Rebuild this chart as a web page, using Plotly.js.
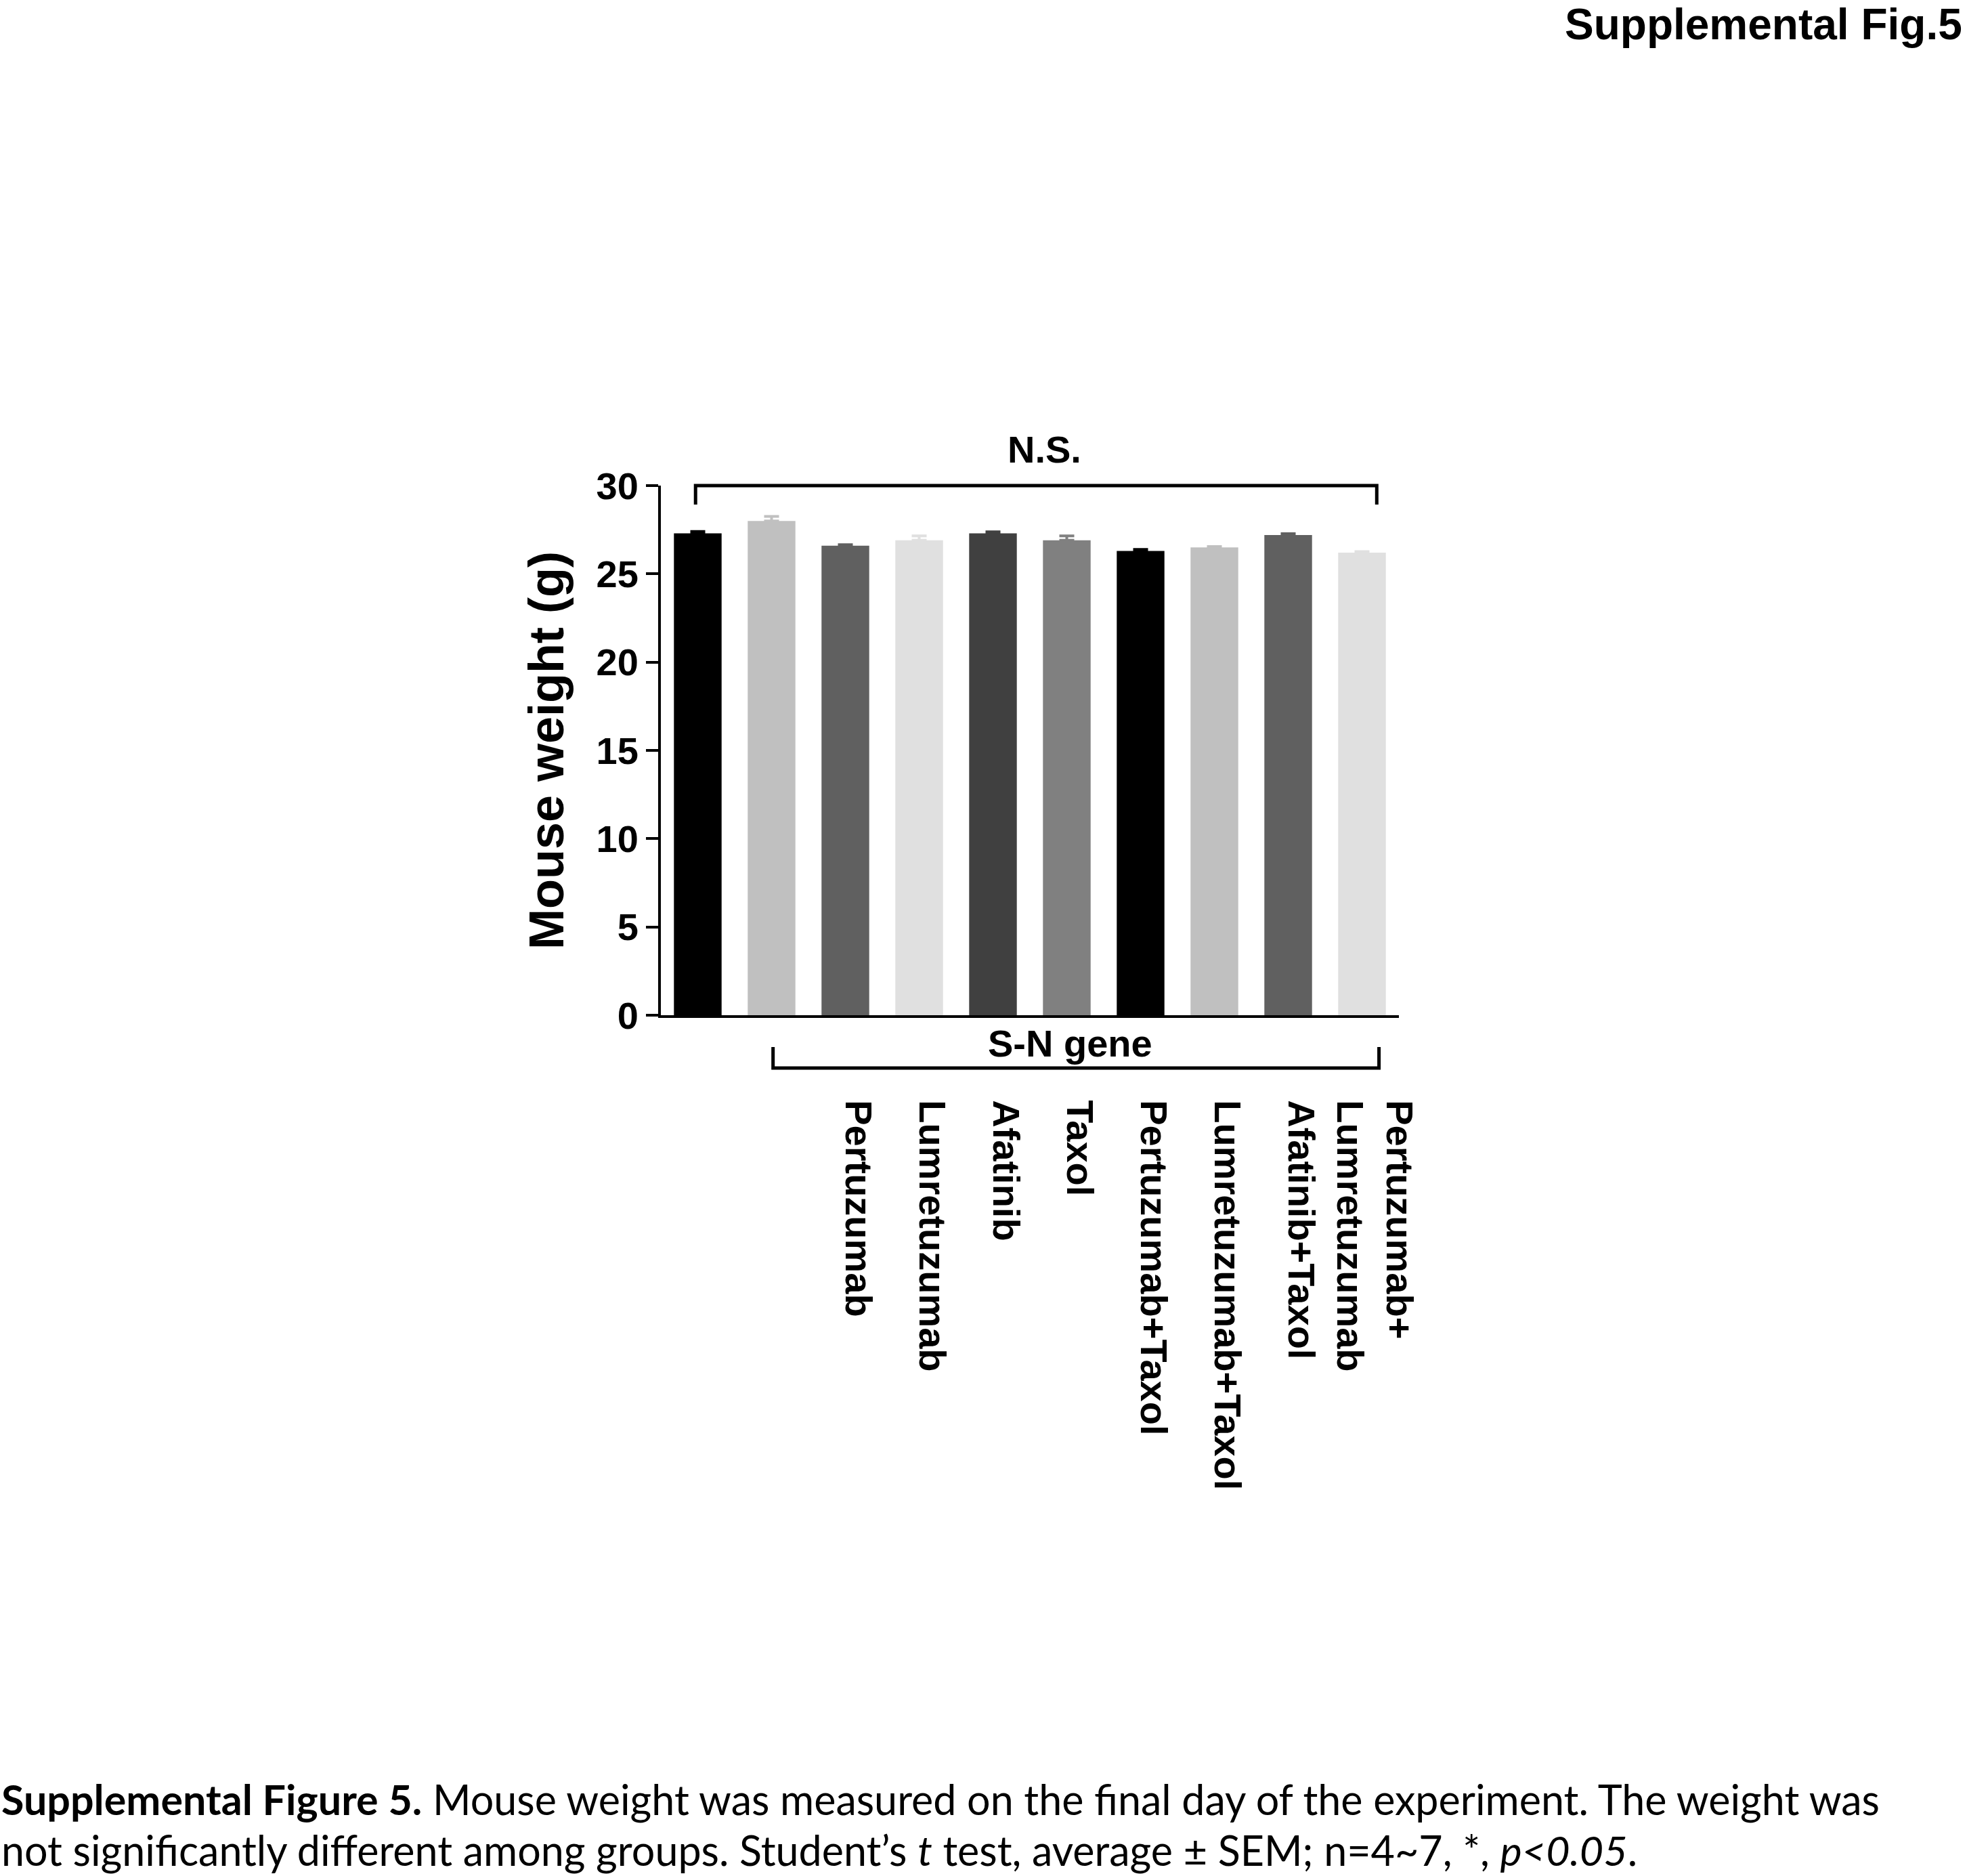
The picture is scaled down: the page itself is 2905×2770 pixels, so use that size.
<!DOCTYPE html>
<html>
<head>
<meta charset="utf-8">
<script src="https://cdn.plot.ly/plotly-3.0.1.min.js"></script>
<style>
  html, body { margin: 0; padding: 0; background: #fff; }
  #chart { width: 2905px; height: 2770px; }
</style>
</head>
<body>
<div id="chart"></div>
<script>
// bar values (mean mouse weight, g) and upper SEM
const positions = [0, 1, 2, 3, 4, 5, 6, 7, 8, 9];
const weights   = [27.3, 28.0, 26.6, 26.9, 27.3, 26.9, 26.3, 26.5, 27.2, 26.2];
const sem       = [0.10, 0.25, 0.05, 0.25, 0.08, 0.25, 0.08, 0.05, 0.08, 0.06];
const barColors = ['#000000', '#c0c0c0', '#606060', '#e0e0e0', '#404040',
                   '#808080', '#000000', '#c0c0c0', '#606060', '#e0e0e0'];
const tickLabels = ['', '', 'Pertuzumab', 'Lumretuzumab', 'Afatinib', 'Taxol',
                    'Pertuzumab+Taxol', 'Lumretuzumab+Taxol', 'Afatinib+Taxol',
                    'Pertuzumab+<br>Lumretuzumab'];
const yTicks = [0, 5, 10, 15, 20, 25, 30];

// the group labels in the original sit a little right of their bars
const LABEL_SHIFT = 0.17;

const W = 2905, H = 2770;
const M = { l: 976, r: 839, t: 717, b: 1271 };
const plotW = W - M.l - M.r;
const plotH = H - M.t - M.b;
// pixel -> paper helpers for the free-floating text
const px = x => (x - M.l) / plotW;
const py = y => (H - M.b - y) / plotH;

const FONT = 'Arial, "Liberation Sans", sans-serif';
const CAPTION_FONT = 'Lato, "Noto Sans", sans-serif';
const bold = (size) => ({ family: FONT, size, color: '#000', weight: 700 });
const captionFont = { family: CAPTION_FONT, size: 61, color: '#000' };

const traces = positions.map((x, i) => ({
  type: 'bar',
  x: [x],
  y: [weights[i]],
  width: 0.646,
  marker: { color: barColors[i], line: { width: 0 } },
  error_y: {
    type: 'data', symmetric: false,
    array: [sem[i]], arrayminus: [0],
    color: barColors[i], thickness: 4, width: 11
  },
  showlegend: false,
  hoverinfo: 'y'
}));

const layout = {
  width: W, height: H,
  margin: { l: M.l, r: M.r, t: M.t, b: M.b, pad: 0 },
  paper_bgcolor: '#fff', plot_bgcolor: '#fff',
  font: { family: FONT, color: '#000' },
  barmode: 'overlay',
  xaxis: {
    range: [-0.5, 9.5],
    tickvals: positions.map(p => p + LABEL_SHIFT), ticktext: tickLabels,
    tickangle: 90, tickfont: bold(56),
    ticks: '', ticklabelstandoff: 110,
    showline: true, linecolor: '#000', linewidth: 4,
    showgrid: false, zeroline: false, fixedrange: true
  },
  yaxis: {
    range: [0, 30], tickvals: yTicks,
    ticks: 'outside', ticklen: 18, tickwidth: 4, tickcolor: '#000',
    tickfont: bold(56),
    showline: true, linecolor: '#000', linewidth: 4,
    showgrid: false, zeroline: false,
    title: { text: 'Mouse weight (g)', font: bold(72), standoff: 25 }
  },
  shapes: [
    { type: 'path', xref: 'x', yref: 'paper',
      path: `M -0.03 ${py(745)} L -0.03 1 L 9.2 1 L 9.2 ${py(745)}`,
      line: { color: '#000', width: 5 } },
    { type: 'path', xref: 'x', yref: 'paper',
      path: `M 1.02 ${py(1546)} L 1.02 ${py(1577)} L 9.23 ${py(1577)} L 9.23 ${py(1546)}`,
      line: { color: '#000', width: 5 } }
  ],
  annotations: [
    { text: 'N.S.', xref: 'x', yref: 'paper', x: 4.7, y: py(663),
      xanchor: 'center', yanchor: 'middle', showarrow: false, font: bold(56) },
    { text: 'S-N gene', xref: 'x', yref: 'paper', x: 5.05, y: py(1540),
      xanchor: 'center', yanchor: 'middle', showarrow: false, font: bold(56) },
    { text: 'Supplemental Fig.5', xref: 'paper', yref: 'paper',
      x: px(2900), y: py(36), xanchor: 'right', yanchor: 'middle',
      showarrow: false, font: bold(64) },
    { text: '<b>Supplemental Figure 5.</b> Mouse weight was measured on the final day of the experiment. The weight was',
      xref: 'paper', yref: 'paper', x: px(0), y: py(2656),
      xanchor: 'left', yanchor: 'middle', showarrow: false, font: captionFont },
    { text: 'not significantly different among groups. Student’s <i>t</i> test, average ± SEM; n=4~7, *, <i>p&lt;0.05</i>.',
      xref: 'paper', yref: 'paper', x: px(0), y: py(2731),
      xanchor: 'left', yanchor: 'middle', showarrow: false, font: captionFont }
  ]
};

Plotly.newPlot('chart', traces, layout, { displayModeBar: false, staticPlot: true });
</script>
</body>
</html>
